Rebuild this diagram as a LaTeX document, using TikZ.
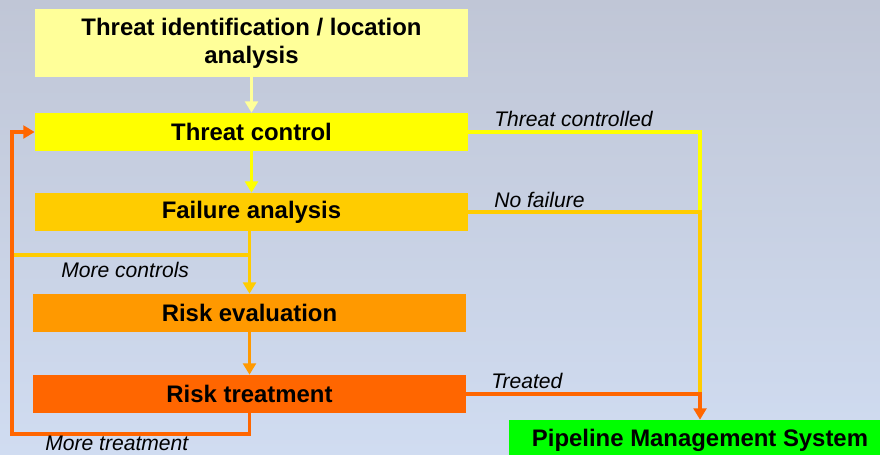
\documentclass[tikz,border=0pt]{standalone}
\usepackage{fontspec}
\setmainfont{Liberation Sans}
\usetikzlibrary{arrows.meta}
\definecolor{bgtop}{RGB}{192,198,214}
\definecolor{bgbot}{RGB}{208,220,241}
\definecolor{paleyel}{HTML}{FFFF99}
\definecolor{brightyel}{HTML}{FFFF00}
\definecolor{amber}{HTML}{FFCC00}
\definecolor{tangerine}{HTML}{FF9900}
\definecolor{redorange}{HTML}{FF6600}
\definecolor{pmsgreen}{HTML}{00FF00}
\begin{document}
\begin{tikzpicture}[x=0.025cm, y=0.025cm]
\tikzstyle{stepbox}=[draw=none, inner sep=0pt, minimum width=10.825cm, minimum height=0.95cm, align=center, font=\fontsize{17}{20}\selectfont\bfseries]
\tikzstyle{lbl}=[inner sep=0pt, anchor=west, font=\fontsize{15}{18}\selectfont\itshape]
\tikzstyle{flow}=[line width=2.4pt]
\tikzstyle{arrowed}=[-{Triangle[width=9pt,length=8pt]}]
% background
\shade [top color=bgtop, bottom color=bgbot] (0,0) rectangle (880,-454);
\useasboundingbox (0,0) rectangle (880,-454);
% process steps
\node [stepbox, fill=paleyel, minimum height=1.7cm] (ident) at (251.5,-43) {Threat identification / location\\analysis};
\node [stepbox, fill=brightyel] (control) at (251.5,-132) {Threat control};
\node [stepbox, fill=amber] (failure) at (251.5,-212) {Failure analysis};
\node [stepbox, fill=tangerine] (evaluation) at (249.5,-313) {Risk evaluation};
\node [stepbox, fill=redorange] (treatment) at (249.5,-394) {Risk treatment};
\node [stepbox, fill=pmsgreen, minimum width=9.55cm, minimum height=1cm] (pms) at (700,-440) {Pipeline Management System};
\coordinate (loopctl) at (12,-255);
\coordinate (looptrt) at (12,-434);
\coordinate (merge) at (pms.north |- failure.east);
% main flow
\draw [flow, paleyel, arrowed] (ident.south) -- (control.north);
\draw [flow, brightyel, arrowed] (control.south) -- (failure.north);
\draw [flow, amber] (failure.south -| evaluation) |- (loopctl);
\draw [flow, amber, arrowed] (failure.south -| evaluation) -- (evaluation.north);
\draw [flow, tangerine, arrowed] (evaluation.south) -- (treatment.north);
\draw [flow, redorange, arrowed] (treatment.south) |- (looptrt) |- (control.west);
% exits to the management system
\draw [flow, brightyel] (control.east) -| (merge);
\draw [flow, amber] (failure.east) -| (pms.north |- treatment.east);
\draw [flow, redorange, arrowed] (treatment.east) -| (pms.north);
% labels
\node [lbl] (tclab) at (494,-119) {Threat controlled};
\node [lbl] (nflab) at (494,-200) {No failure};
\node [lbl] (trlab) at (491,-381) {Treated};
\node [lbl] (mclab) at (61,-270) {More controls};
\node [lbl] (mtlab) at (45,-443) {More treatment};
\end{tikzpicture}
\end{document}
